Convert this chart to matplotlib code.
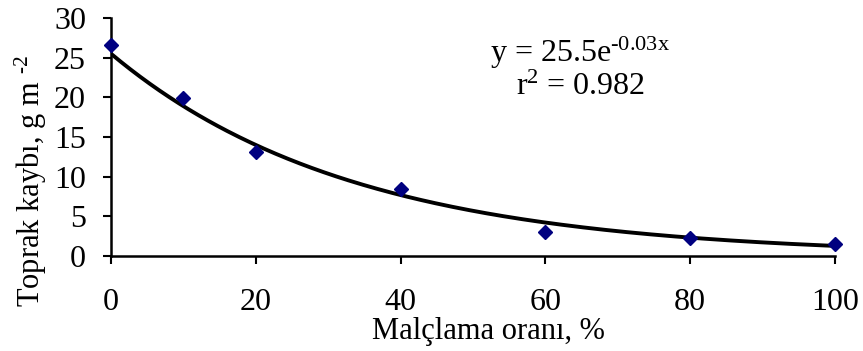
import numpy as np
import matplotlib
matplotlib.use("Agg")
import matplotlib.pyplot as plt

plt.rcParams['font.family'] = ['Liberation Serif', 'DejaVu Serif']
plt.rcParams['mathtext.fontset'] = 'custom'
plt.rcParams['mathtext.rm'] = 'Liberation Serif'
plt.rcParams['mathtext.it'] = 'Liberation Serif'
plt.rcParams['axes.unicode_minus'] = False

mulch_rate = [0, 10, 20, 40, 60, 80, 100]
soil_loss = [26.6, 19.9, 13.1, 8.5, 3.05, 2.3, 1.5]
fit_a = 25.5
fit_b = -0.03
x_ticks = [0, 20, 40, 60, 80, 100]
y_ticks = [0, 5, 10, 15, 20, 25, 30]

fig = plt.figure(figsize=(8.63, 3.51), dpi=100)
ax = fig.add_axes([0.1286, 0.2707, 0.8390, 0.6780])

xf = np.linspace(0, 100, 300)
ax.plot(xf, fit_a * np.exp(fit_b * xf), color='black', lw=2.8, zorder=2)
ax.plot(mulch_rate, soil_loss, linestyle='none', marker='D', markersize=7.5,
        color='#000080', zorder=3, clip_on=False)

ax.set_xlim(0, 100)
ax.set_ylim(0, 30)
ax.set_xticks(x_ticks)
ax.set_yticks(y_ticks)
for s in ['top', 'right']:
    ax.spines[s].set_visible(False)
for s in ['left', 'bottom']:
    ax.spines[s].set_linewidth(1.8)
ax.tick_params(axis='both', labelsize=23, width=1.5, length=6, direction='out')
ax.tick_params(axis='x', pad=17)
ax.tick_params(axis='y', pad=12)

ax.set_xlabel('Malçlama oranı, %', fontsize=22)
ax.xaxis.set_label_coords(0.521, -0.255)
ax.set_ylabel(r'Toprak kaybı, g m $^{\text{-2}}$', fontsize=22)
ax.yaxis.set_label_coords(-0.086, 0.315)

ax.text(64.8, 24.5, r'y = 25.5e$^{\text{-0.03x}}$', fontsize=23, ha='center', va='baseline')
ax.text(64.8, 20.3, r'r$^{2}$ = 0.982', fontsize=23, ha='center', va='baseline')

fig.savefig('out.png', dpi=100)
